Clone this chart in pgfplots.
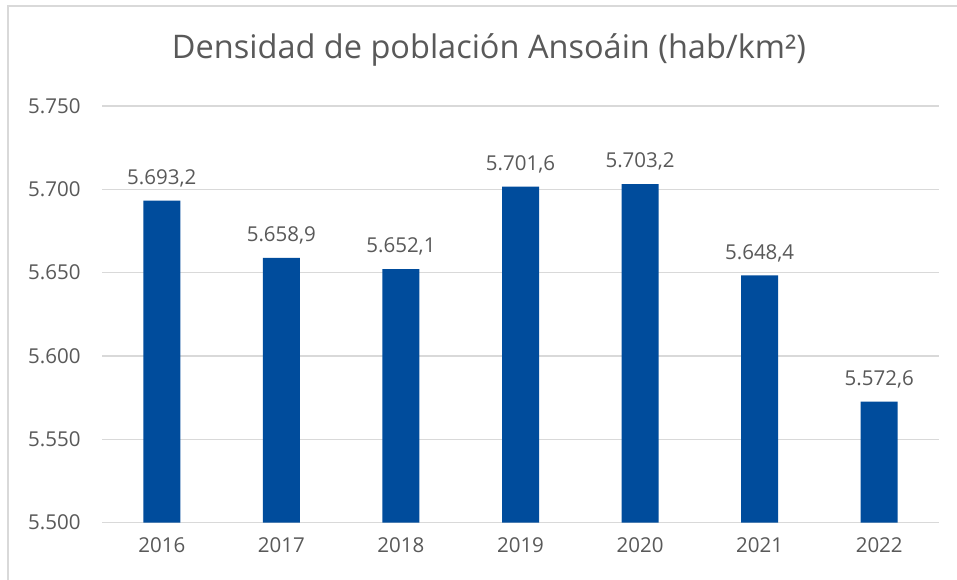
\documentclass[border=0pt]{standalone}
\usepackage{pgfplots}
\pgfplotsset{compat=1.18}
\usepackage{fontspec}
\setmainfont{Open Sans}
\definecolor{txt}{HTML}{595959}
\definecolor{grd}{HTML}{D9D9D9}
\definecolor{bar}{HTML}{004C9C}
\begin{document}
\begin{tikzpicture}[x=1pt,y=1pt]
\path[use as bounding box] (0,0) rectangle (957,580);
\fill[white] (0,0) rectangle (957,580);
\draw[grd, line width=1.5pt] (8,0) -- (8,574) -- (957,574);
\node[txt, font=\fontsize{32.5}{38}\selectfont] at (489,530) {Densidad de población Ansoáin (hab/km²)};
\begin{axis}[
  at={(102pt,57.3pt)}, anchor=south west,
  scale only axis, width=837pt, height=416.7pt,
  xmin=-0.5, xmax=6.5, ymin=5500, ymax=5750,
  ytick={5500,5550,5600,5650,5700,5750},
  xtick={0,1,2,3,4,5,6},
  xticklabels={2016,2017,2018,2019,2020,2021,2022},
  axis line style={draw=none},
  axis x line*=bottom,
  tick style={draw=none},
  ymajorgrids, grid style={grd, line width=1.3pt},
  ticklabel style={txt, font=\fontsize{20.5}{24}\selectfont},
  yticklabel style={xshift=-18pt},
  xticklabel style={yshift=-11pt},
  /pgf/number format/assume math mode=true,
  y tick label style={/pgf/number format/.cd, fixed, precision=0, 1000 sep={.}},
  scaled y ticks=false,
  clip=false,
]
\addplot[ybar, bar width=37pt, fill=bar, draw=none,
  nodes near coords,
  every node near coord/.append style={txt, font=\fontsize{20.5}{24}\selectfont, yshift=10pt,
    /pgf/number format/.cd, fixed, fixed zerofill, precision=1, use comma, 1000 sep={.}, assume math mode=true},
] coordinates {(0,5693.2) (1,5658.9) (2,5652.1) (3,5701.6) (4,5703.2) (5,5648.4) (6,5572.6)};
\end{axis}
\end{tikzpicture}
\end{document}
